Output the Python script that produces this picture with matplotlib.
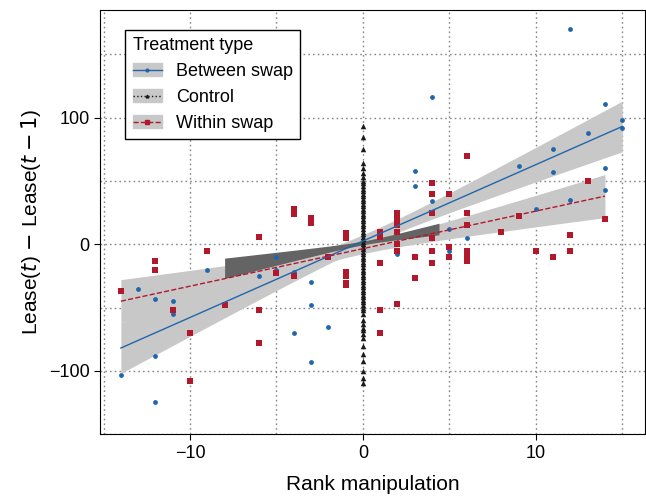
import numpy as np
import matplotlib
matplotlib.use('agg')
from matplotlib import pyplot as plt
from matplotlib.lines import Line2D
from matplotlib.patches import Patch

plt.rcParams['font.family'] = ['Liberation Sans', 'DejaVu Sans']

# between swap points
btw_x = [-14, -13, -12, -12, -12, -11, -11, -9, -6, -5, -5, -4, -4, -3, -3, -3, -2, -1,
         2, 2, 2, 3, 3, 4, 4, 5, 5, 6, 9, 10, 11, 11, 12, 12, 13, 14, 14, 14, 15, 15]
btw_y = [-103, -35, -125, -88, -43, -45, -55, -20, -25, -10, -20, -70, -22, -48, -93, -30, -65, -32,
         20, 0, -8, 46, 58, 116, 34, 12, -5, 5, 62, 28, 75, 57, 35, 170, 88, 111, 60, 43, 98, 92]
# within swap points
wth_x = [-14, -12, -12, -11, -10, -10, -9, -8, -6, -6, -6, -5, -4, -4, -4, -3, -3, -2,
         -1, -1, -1, -1, -1, -1, 1, 1, 1, 1, 1, 2, 2, 2, 2, 2, 2, 2, 3, 3,
         4, 4, 4, 4, 4, 4, 5, 5, 5, 6, 6, 6, 6, 6, 6, 8, 9, 10, 11, 12, 12, 13, 14]
wth_y = [-37, -13, -20, -52, -70, -108, -5, -48, 6, -52, -78, -23, 28, 24, -25, 21, 17, -10,
         9, 5, -22, -25, -31, -32, -52, -70, 10, 6, -15, 25, 20, 15, 10, 0, -5, -47, -27, -10,
         48, 40, 25, -5, 5, -15, -2, -10, 40, -13, -10, 25, 15, -5, 70, 10, 22, -5, -10, -5, 7, 50, 20]
# control points (all at rank manipulation 0)
ctl_y = [93, 85, 75, 64, 60, 56, 53, 50, 48, 46, 44, 42, 40, 38, 36, 34, 32, 30, 28, 26, 24,
         22, 20, 18, 16, 14, 12, 10, 8, 6, 4, 2, 0, -2, -4, -6, -8, -10, -12, -14, -16, -18,
         -20, -22, -24, -26, -28, -30, -32, -34, -36, -38, -40, -42, -44, -46, -48, -50,
         -52, -55, -60, -63, -66, -68, -71, -74, -80, -87, -92, -100, -106, -110]
ctl_x = [0] * len(ctl_y)

# fitted lines: x range, fit at ends, band half-width at ends and centre
btw_fx = [-14, 15]
btw_fit = [-82, 93]
btw_ci = (20, 5, 0.5)   # (end half-width, minimum half-width, x of minimum)
wth_fx = [-14, 14]
wth_fit = [-45, 38]
wth_ci = (17, 4, 0)
ctl_fx = [-8, 4.4]
ctl_fit = [-19, 12]
ctl_ci = (8, 1.5, 0)

blue = '#2166ac'
red = '#b2182b'
fig, ax = plt.subplots(figsize=(6.46, 4.99), dpi=100)
fig.subplots_adjust(left=0.155, right=0.998, top=0.98, bottom=0.13)


def band(fx, fit, ci, fc):
    xs = np.linspace(fx[0], fx[-1], 100)
    f = np.interp(xs, fx, fit)
    end, low, x0 = ci
    d = max(abs(fx[0] - x0), abs(fx[-1] - x0))
    b = (end ** 2 - low ** 2) / d ** 2
    c = np.sqrt(low ** 2 + b * (xs - x0) ** 2)
    ax.fill_between(xs, f - c, f + c, color=fc, lw=0, zorder=1)


band(btw_fx, btw_fit, btw_ci, '#c8c8c8')
band(wth_fx, wth_fit, wth_ci, '#c8c8c8')
band(ctl_fx, ctl_fit, ctl_ci, '#646464')

ax.scatter(ctl_x, ctl_y, marker='^', s=16, color='#1a1a1a', zorder=3, lw=0)
ax.scatter(btw_x, btw_y, marker='o', s=12, color=blue, zorder=3, lw=0)
ax.scatter(wth_x, wth_y, marker='s', s=18, color=red, zorder=3, lw=0)
ax.plot(btw_fx, btw_fit, color=blue, lw=1, zorder=4)
ax.plot(wth_fx, wth_fit, color=red, lw=1, ls='--', zorder=4)

ax.set_xlim(-15.2, 16.3)
ax.set_ylim(-139, 185)
ax.set_xticks([-10, 0, 10])
ax.set_xticks([-15, -5, 5, 15], minor=True)
ax.set_yticks([-100, 0, 100])
ax.set_yticks([-150, -50, 50, 150], minor=True)
ax.grid(True, which='both', color='#888888', ls=(0, (1.2, 2.2)), lw=1)
ax.tick_params(which='both', direction='out', length=4, labelsize=13)
ax.tick_params(which='minor', length=0)
ax.set_xlabel('Rank manipulation', fontsize=15, labelpad=10)
ax.set_ylabel('Lease($t$) $-$ Lease($t-1$)', fontsize=15)
ax.set_axisbelow(True)

handles = [(Patch(color='#c8c8c8'), Line2D([], [], color=blue, lw=1, marker='o', ms=2)),
           (Patch(color='#c8c8c8'), Line2D([], [], color='#1a1a1a', lw=1, ls=':', marker='^', ms=2)),
           (Patch(color='#c8c8c8'), Line2D([], [], color=red, lw=1, ls='--', marker='s', ms=2.5))]
leg = ax.legend(handles, ['Between swap', 'Control', 'Within swap'], title='Treatment type',
                loc='upper left', bbox_to_anchor=(0.03, 0.975), fontsize=13, title_fontsize=13,
                fancybox=False, edgecolor='black', framealpha=1, handlelength=1.6)
leg.get_frame().set_linewidth(1)
leg._legend_box.align = 'left'

plt.savefig('out.png')
